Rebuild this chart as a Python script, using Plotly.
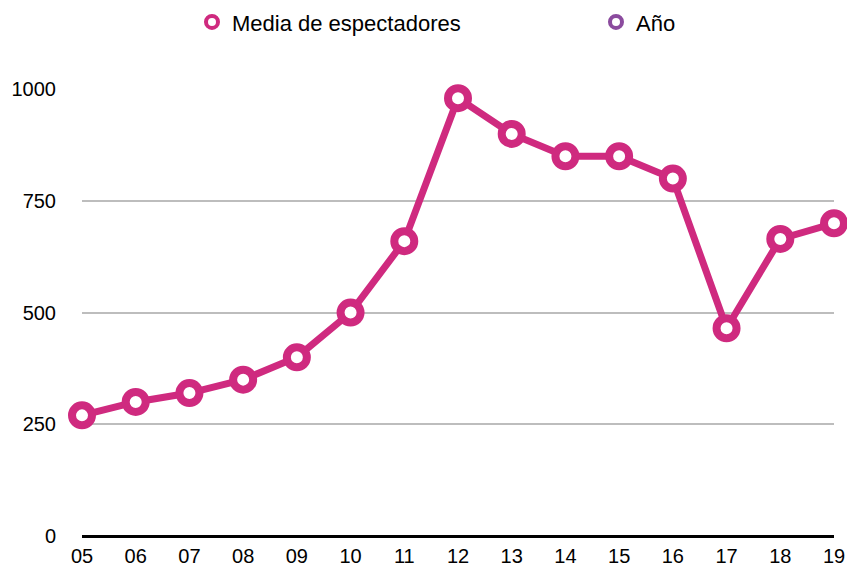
import plotly.graph_objects as go

# Temporadas (eje X) y media de espectadores por temporada
temporadas = ["05", "06", "07", "08", "09", "10", "11", "12", "13", "14", "15", "16", "17", "18", "19"]
media_espectadores = [270, 300, 320, 350, 400, 500, 660, 980, 900, 850, 850, 800, 465, 665, 700]

rosa = "#CF2A7F"
morado = "#8B4B9E"
fuente = "Liberation Sans"

fig = go.Figure()

fig.add_trace(go.Scatter(
    x=temporadas,
    y=media_espectadores,
    name="Media de espectadores",
    mode="lines+markers",
    line=dict(color=rosa, width=7),
    marker=dict(symbol="circle", size=20, color="white",
                line=dict(color=rosa, width=8)),
    cliponaxis=False,
    showlegend=False,
))

# Entradas de leyenda (solo marcador)
fig.add_trace(go.Scatter(
    x=[temporadas[0]], y=[None],
    name="Media de espectadores",
    mode="markers",
    marker=dict(symbol="circle", size=12, color="white",
                line=dict(color=rosa, width=4)),
    legend="legend",
))
fig.add_trace(go.Scatter(
    x=[temporadas[0]], y=[None],
    name="Año",
    mode="markers",
    marker=dict(symbol="circle", size=12, color="white",
                line=dict(color=morado, width=4)),
    legend="legend2",
))

leyenda_comun = dict(
    orientation="h",
    yref="container", y=0.998, yanchor="top",
    xref="container", xanchor="left",
    font=dict(family=fuente, size=22, color="black"),
    bgcolor="rgba(0,0,0,0)",
)

fig.update_layout(
    width=847,
    height=570,
    margin=dict(l=82, r=13, t=89, b=34),
    paper_bgcolor="white",
    plot_bgcolor="white",
    font=dict(family=fuente, size=20, color="black"),
    showlegend=True,
    legend=dict(leyenda_comun, x=(212 - 20) / 847),
    legend2=dict(leyenda_comun, x=(616 - 20) / 847),
    xaxis=dict(
        type="category",
        range=[0, len(temporadas) - 1],
        showgrid=False,
        showline=False,
        zeroline=False,
        ticks="",
        automargin=False,
        ticklabelstandoff=6,
        tickfont=dict(size=20),
    ),
    yaxis=dict(
        range=[0, 1000.5],
        tickvals=[0, 250, 500, 750, 1000],
        showgrid=True,
        gridcolor="#BDBDBD",
        gridwidth=1.5,
        zeroline=True,
        zerolinecolor="black",
        zerolinewidth=2.5,
        showline=False,
        ticks="",
        automargin=False,
        ticklabelstandoff=25,
        tickfont=dict(size=20),
    ),
)

fig.write_html("out.html")
